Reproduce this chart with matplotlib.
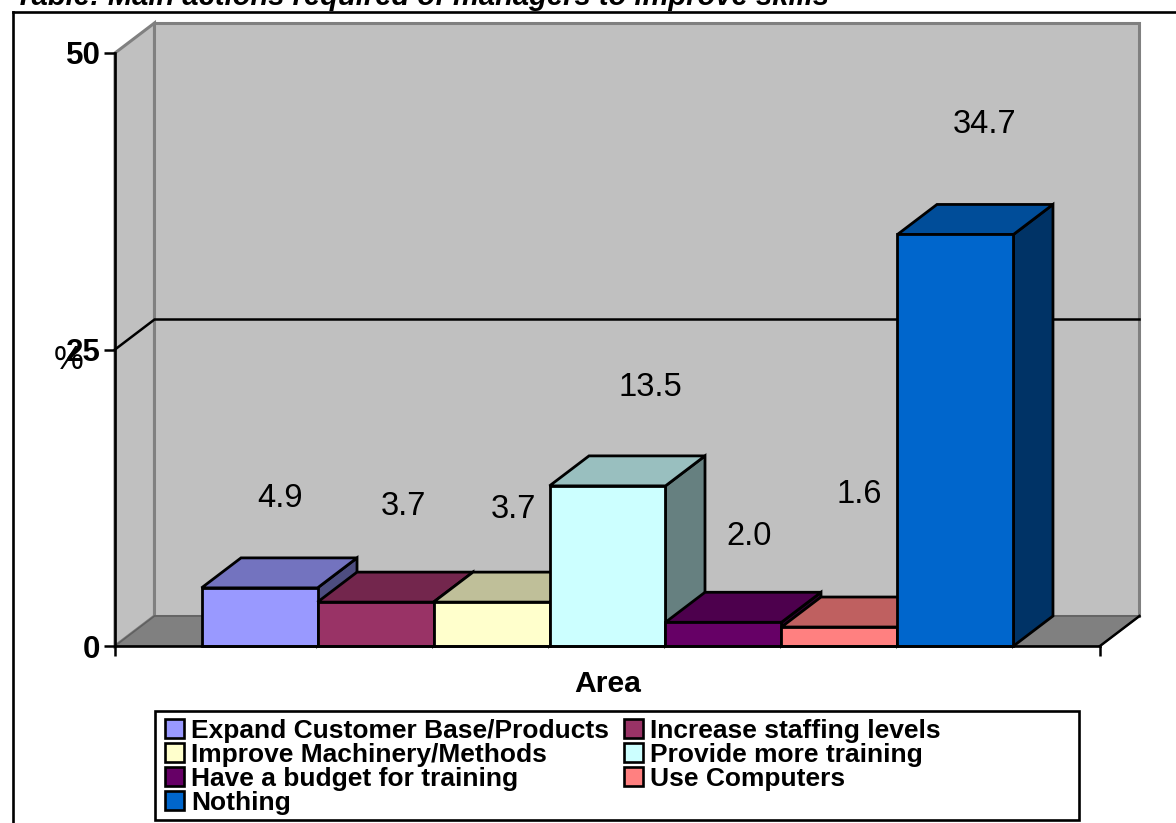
import matplotlib
matplotlib.use('Agg')
import matplotlib.pyplot as plt
from matplotlib.patches import Polygon, Rectangle, Patch
from matplotlib.lines import Line2D

plt.rcParams['font.family'] = ['Liberation Sans', 'DejaVu Sans']

categories = ['Expand Customer Base/Products', 'Increase staffing levels',
              'Improve Machinery/Methods', 'Provide more training',
              'Have a budget for training', 'Use Computers', 'Nothing']
values = [4.9, 3.7, 3.7, 13.5, 2.0, 1.6, 34.7]

front_colors = ['#9999FF', '#993366', '#FFFFCC', '#CCFFFF', '#660066', '#FF8080', '#0066CC']
top_colors = ['#7373BF', '#73264D', '#BFBF99', '#99BFBF', '#4D004D', '#BF6060', '#004D99']
side_colors = ['#4D4D80', '#4D1A33', '#808066', '#668080', '#330033', '#804040', '#003366']

y_ticks = [0, 25, 50]
title = 'Table: Main actions required of managers to improve skills'

# label offsets from the top of each bar, in pixels
label_dx = [20, 28, 22, 43, 26, 20, 29]
label_dy = [89, 96, 93, 98, 86, 133, 110]

W, H = 1176, 823
fig = plt.figure(figsize=(W / 100, H / 100), dpi=100, facecolor='white')
ax = fig.add_axes([115 / W, (H - 646) / H, 985 / W, 593 / H])
ax.patch.set_visible(False)

bar_w = 1.0
xmin, xmax = -1.246, 7.246
ax.set_xlim(xmin, xmax)
ax.set_ylim(0, 50)

# depth of the 3d effect in data units
ddx = 39.5 / 116
ddy = 30 / 593 * 50


def poly(pts, fc, ec, lw=2.0, z=2):
    ax.add_patch(Polygon(pts, closed=True, facecolor=fc, edgecolor=ec, linewidth=lw,
                         joinstyle='miter', zorder=z, clip_on=False))


# walls and floor
poly([(xmin, 0), (xmin + ddx, ddy), (xmin + ddx, 50 + ddy), (xmin, 50)], '#C0C0C0', '#808080', 2.2, 1)
poly([(xmin + ddx, ddy), (xmax + ddx, ddy), (xmax + ddx, 50 + ddy), (xmin + ddx, 50 + ddy)],
     '#C0C0C0', '#808080', 2.2, 1)
poly([(xmin, 0), (xmax, 0), (xmax + ddx, ddy), (xmin + ddx, ddy)], '#808080', '#606060', 1.2, 1.5)
ax.plot([xmax, xmax + ddx], [0, ddy], color='black', lw=1.8, zorder=1.7, clip_on=False)

# gridline at 25, across the side wall and back wall
ax.plot([xmin, xmin + ddx, xmax + ddx], [25, 25 + ddy, 25 + ddy], color='black', lw=1.8,
        zorder=1.8, clip_on=False, solid_joinstyle='miter')

for i, v in enumerate(values):
    x0 = i - bar_w / 2
    x1 = i + bar_w / 2
    z = 3 + i * 0.1
    poly([(x1, 0), (x1 + ddx, ddy), (x1 + ddx, v + ddy), (x1, v)], side_colors[i], 'black', 2.0, z)
    poly([(x0, v), (x1, v), (x1 + ddx, v + ddy), (x0 + ddx, v + ddy)], top_colors[i], 'black', 2.0, z)
    poly([(x0, 0), (x1, 0), (x1, v), (x0, v)], front_colors[i], 'black', 2.0, z)
    ax.annotate(f'{v:.1f}', xy=(i, v), xytext=(label_dx[i] * 0.72, label_dy[i] * 0.72),
                textcoords='offset points', ha='center', va='center', fontsize=23.5,
                zorder=10, annotation_clip=False)

for s in ['top', 'right']:
    ax.spines[s].set_visible(False)
for s in ['left', 'bottom']:
    ax.spines[s].set_linewidth(1.9)
    ax.spines[s].set_zorder(5)
ax.set_yticks(y_ticks)
ax.set_xticks([xmin, xmax])
ax.set_xticklabels([])
ax.tick_params(axis='y', length=8, width=1.8, pad=2.5, labelsize=22.5)
ax.tick_params(axis='x', length=7.5, width=1.8)
for lab in ax.get_yticklabels():
    lab.set_fontweight('bold')

fig.text(69 / W, 1 - 361 / H, '%', fontsize=24, ha='center', va='center')
fig.text(607.5 / W, 1 - 684 / H, 'Area', fontsize=21.7, fontweight='bold', ha='center', va='center')
fig.text(15 / W, 1 - 5 / H, title, fontsize=21, fontweight='bold', style='italic',
         ha='left', va='baseline')

# outer border only runs along the top and left
fig.add_artist(Line2D([12.5 / W, 12.5 / W], [0, 1 - 12 / H], color='black', lw=1.9))
fig.add_artist(Line2D([12.5 / W, 1], [1 - 12 / H, 1 - 12 / H], color='black', lw=1.9))

# legend box drawn separately so it can be wider than its entries
fig.add_artist(Rectangle((154.5 / W, 1 - 820 / H), 924 / W, 109 / H, transform=fig.transFigure,
                         facecolor='white', edgecolor='black', linewidth=1.9))
order = [0, 2, 4, 6, 1, 3, 5]
handles = [Patch(facecolor=front_colors[i], edgecolor='black', linewidth=1.9) for i in order]
labels = [categories[i] for i in order]
fig.legend(handles, labels, ncol=2, frameon=False, loc='upper left',
           bbox_to_anchor=(165 / W, 1 - 719 / H), borderaxespad=0, borderpad=0,
           prop={'family': 'Liberation Sans', 'weight': 'bold', 'size': 19},
           handlelength=0.72, handleheight=0.72, handletextpad=0.28,
           labelspacing=0.0, columnspacing=0.55)

fig.savefig('out.png', dpi=100)
